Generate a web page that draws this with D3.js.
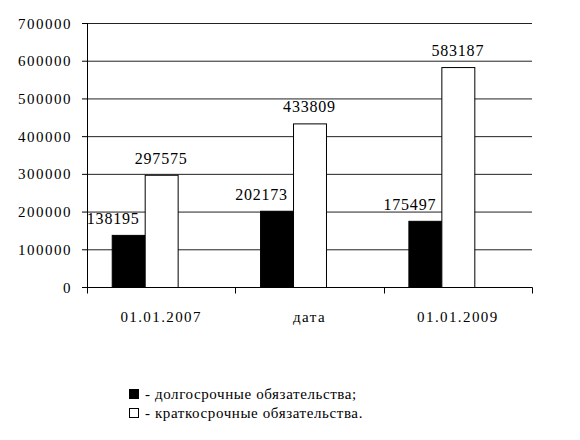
<!DOCTYPE html>
<html>
<head>
<meta charset="utf-8">
<script src="https://cdn.jsdelivr.net/npm/d3@7"></script>
</head>
<body style="margin:0">
<div id="c"></div>
<script>
// DATA
const categories = ["01.01.2007", "дата", "01.01.2009"];
const longTerm = [138195, 202173, 175497];
const shortTerm = [297575, 433809, 583187];
const seriesNames = ["- долгосрочные обязательства;", "- краткосрочные обязательства."];
const yTicks = [0, 100000, 200000, 300000, 400000, 500000, 600000, 700000];

const W = 580, H = 440,
  margin = { top: 23, right: 48, bottom: 153, left: 87 };
const fam = "Liberation Serif";

const svg = d3.select("#c").append("svg")
  .attr("width", W)
  .attr("height", H);

// SCALES
const x0 = d3.scaleBand()
  .domain(categories)
  .range([margin.left, W - margin.right])
  .padding(0);

// three slots per category like the original sheet (third one empty)
const x1 = d3.scaleBand()
  .domain([0, 1, 2])
  .range([0, x0.bandwidth()])
  .paddingInner(0)
  .paddingOuter(0.75);

const y = d3.scaleLinear()
  .domain([0, 700000])
  .range([H - margin.bottom, margin.top]);

// gridlines
svg.selectAll("line.grid")
  .data(yTicks.slice(1))
  .join("line")
  .attr("class", "grid")
  .attr("x1", margin.left)
  .attr("x2", W - margin.right)
  .attr("y1", d => y(d) + 0.5)
  .attr("y2", d => y(d) + 0.5)
  .attr("stroke", "#222");

// y axis line and ticks
svg.append("line")
  .attr("x1", margin.left + 0.5).attr("x2", margin.left + 0.5)
  .attr("y1", y(700000)).attr("y2", y(0) + 0.5)
  .attr("stroke", "#000");
svg.selectAll("line.ytick")
  .data(yTicks)
  .join("line")
  .attr("class", "ytick")
  .attr("x1", margin.left - 5).attr("x2", margin.left + 0.5)
  .attr("y1", d => y(d) + 0.5).attr("y2", d => y(d) + 0.5)
  .attr("stroke", "#000");
svg.selectAll("text.ytick")
  .data(yTicks)
  .join("text")
  .attr("class", "ytick")
  .attr("x", margin.left - 15)
  .attr("y", d => y(d) + 5.5)
  .attr("text-anchor", "end")
  .style("font-family", fam)
  .style("font-size", "15px")
  .style("letter-spacing", "1.5px")
  .text(d => d);

// bars
const cells = [];
categories.forEach((c, i) => {
  cells.push({ cat: c, k: 0, v: longTerm[i] });
  cells.push({ cat: c, k: 1, v: shortTerm[i] });
});

svg.selectAll("rect.bar")
  .data(cells)
  .join("rect")
  .attr("class", "bar")
  .attr("x", d => x0(d.cat) + x1(d.k) + 0.5)
  .attr("y", d => y(d.v) + 0.5)
  .attr("width", x1.bandwidth())
  .attr("height", d => y(0) - y(d.v))
  .attr("fill", d => d.k === 0 ? "#000" : "#fff")
  .attr("stroke", "#000");

// value labels
svg.selectAll("text.val")
  .data(cells)
  .join("text")
  .attr("class", "val")
  .attr("x", d => x0(d.cat) + x1(d.k) + x1.bandwidth() / 2 + (d.k === 0 ? -15 : 0))
  .attr("y", d => y(d.v) - 11)
  .attr("text-anchor", "middle")
  .style("font-family", fam)
  .style("font-size", "16px")
  .style("letter-spacing", "0.8px")
  .text(d => d.v);

// x axis
svg.append("line")
  .attr("x1", margin.left)
  .attr("x2", W - margin.right + 0.5)
  .attr("y1", y(0) + 0.5).attr("y2", y(0) + 0.5)
  .attr("stroke", "#000");
svg.selectAll("line.xtick")
  .data(categories.map(c => x0(c)).concat([x0(categories[categories.length - 1]) + x0.bandwidth()]))
  .join("line")
  .attr("class", "xtick")
  .attr("x1", d => Math.round(d) + 0.5)
  .attr("x2", d => Math.round(d) + 0.5)
  .attr("y1", y(0) + 0.5)
  .attr("y2", y(0) + 6.5)
  .attr("stroke", "#000");
svg.selectAll("text.xlab")
  .data(categories)
  .join("text")
  .attr("class", "xlab")
  .attr("x", d => x0(d) + x0.bandwidth() / 2)
  .attr("y", y(0) + 35)
  .attr("text-anchor", "middle")
  .style("font-family", fam)
  .style("font-size", "15px")
  .style("letter-spacing", "1.4px")
  .text(d => d);

// legend
svg.selectAll("rect.leg")
  .data(seriesNames)
  .join("rect")
  .attr("class", "leg")
  .attr("x", 129.5)
  .attr("y", (d, i) => 389.5 + i * 19)
  .attr("width", 9)
  .attr("height", 9)
  .attr("fill", (d, i) => i === 0 ? "#000" : "#fff")
  .attr("stroke", "#000");
svg.selectAll("text.leg")
  .data(seriesNames)
  .join("text")
  .attr("class", "leg")
  .attr("x", 145)
  .attr("y", (d, i) => 399 + i * 19)
  .style("font-family", fam)
  .style("font-size", "15px")
  .style("letter-spacing", "0.6px")
  .text(d => d);
</script>
</body>
</html>
